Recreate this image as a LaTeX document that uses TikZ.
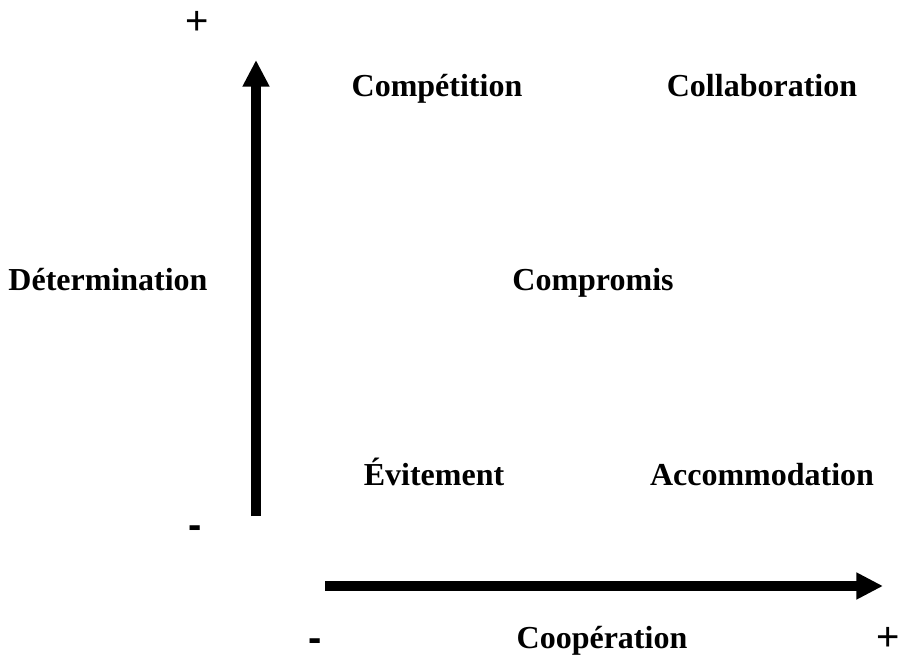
\documentclass[tikz,border=0pt]{standalone}
\usepackage{fontspec}
\setmainfont{Liberation Serif}
\newfontfamily\signfont{Liberation Sans}
\usetikzlibrary{arrows.meta}

\tikzset{
  mode/.style={font=\fontsize{24}{28}\selectfont\bfseries, inner sep=0pt, anchor=base},
  sign/.style={font=\fontsize{30}{34}\selectfont\signfont, inner sep=0pt, text depth=0pt, anchor=base},
  minus/.style={sign, font=\fontsize{30}{34}\selectfont\signfont\bfseries},
  axis/.style={line width=7pt, -{Triangle[length=20pt,width=19pt]}}
}

\begin{document}
\begin{tikzpicture}[line cap=butt,line join=miter,x=0.75pt,y=-0.75pt]
            \useasboundingbox (0,0) rectangle (903,660);
            % axes
            \coordinate (yfrom) at (256,516);
            \coordinate (yto) at (256,60);
            \coordinate (xfrom) at (325,586);
            \coordinate (xto) at (883,586);
            \draw [axis] (yfrom) -- (yto);
            \draw [axis] (xfrom) -- (xto);
            % axis labels
            \node [mode] (det) at (108,290) {Détermination};
            \node [mode] (coop) at (602,648) {Coopération};
            \node [sign] (yplus) at (197,35) {+};
            \node [minus] (yminus) at (195,538) {-};
            \node [minus] (xminus) at (315,651) {-};
            \node [sign] (xplus) at (888,650) {+};
            % styles
            \node [mode] (comp) at (437,97) {Compétition};
            \node [mode] (coll) at (762,97) {Collaboration};
            \node [mode] (compro) at (593,290) {Compromis};
            \node [mode] (evit) at (434,485) {Évitement};
            \node [mode] (acco) at (762,485) {Accommodation};
            \end{tikzpicture}
\end{document}
